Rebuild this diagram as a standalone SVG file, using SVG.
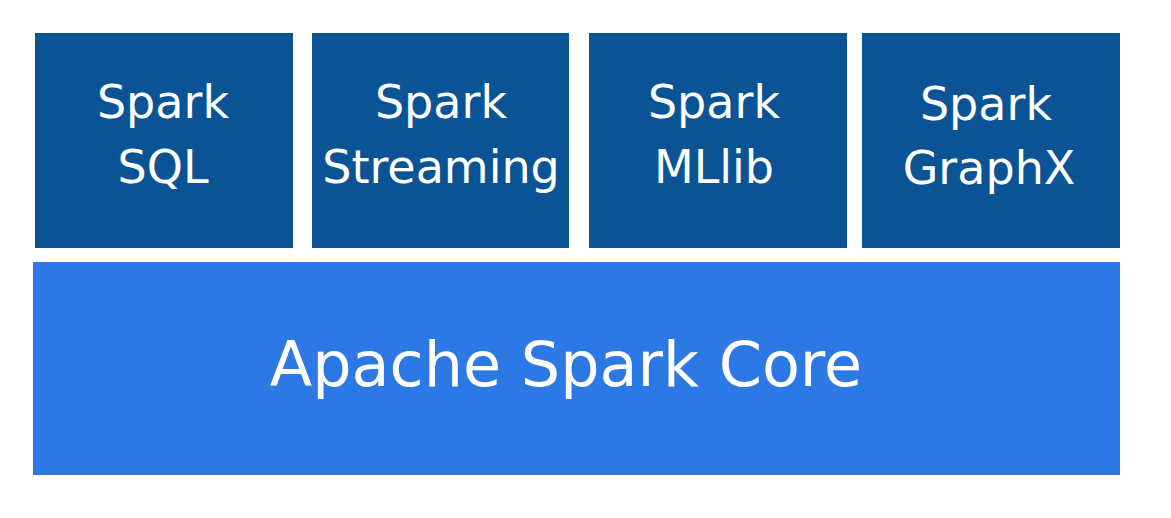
<svg xmlns="http://www.w3.org/2000/svg" width="1171" height="518" viewBox="0 0 1171 518">
<style>
.mod{fill:#0a5394}
.core{fill:#2c78e4}
text{font-family:"DejaVu Sans",sans-serif;fill:#ffffff;text-anchor:middle}
.t{font-size:46px}
.c{font-size:62px}
</style>
<rect width="1171" height="518" fill="#ffffff"/>
<g id="spark-sql">
<rect class="mod" x="35" y="33" width="258" height="215"/>
<text class="t" x="163" y="118">Spark</text>
<text class="t" x="163" y="183">SQL</text>
</g>
<g id="spark-streaming">
<rect class="mod" x="312" y="33" width="257" height="215"/>
<text class="t" x="441" y="118">Spark</text>
<text class="t" x="441" y="183">Streaming</text>
</g>
<g id="spark-mllib">
<rect class="mod" x="589" y="33" width="258" height="215"/>
<text class="t" x="714" y="118">Spark</text>
<text class="t" x="714" y="183">MLlib</text>
</g>
<g id="spark-graphx">
<rect class="mod" x="862" y="33" width="258" height="215"/>
<text class="t" x="986" y="120">Spark</text>
<text class="t" x="989" y="184">GraphX</text>
</g>
<g id="apache-spark-core">
<rect class="core" x="33" y="262" width="1087" height="213"/>
<text class="c" x="566" y="386">Apache Spark Core</text>
</g>
<g id="connectors"/>
</svg>
